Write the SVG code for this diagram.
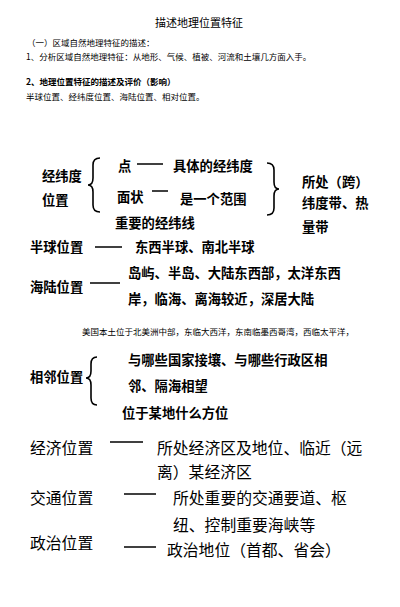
<svg xmlns="http://www.w3.org/2000/svg" width="400" height="607" viewBox="0 0 400 607">
<style>
text{font-family:"Noto Sans CJK SC","Liberation Sans",sans-serif;fill:#000}
.t{font-size:11px}
.s{font-size:8.5px}
.sb{font-size:8.5px;font-weight:bold}
.b{font-size:13.3px;font-weight:bold}
.n{font-size:15.8px}
.ln{stroke:#000;stroke-width:1.5;fill:none}
.br{stroke:#000;stroke-width:1.6;fill:none}
</style>
<rect width="400" height="607" fill="#fff"/>
<g id="header">
<text class="t" x="155" y="27">描述地理位置特征</text>
<text class="s" x="27" y="46">（一）区域自然地理特征的描述：</text>
<text class="s" x="26" y="60">1、分析区域自然地理特征：从地形、气候、植被、河流和土壤几方面入手。</text>
<text class="sb" x="26" y="85">2、地理位置特征的描述及评价（影响）</text>
<text class="s" x="26" y="100">半球位置、经纬度位置、海陆位置、相对位置。</text>
</g>
<g id="node-jingweidu">
<text class="b" x="42" y="181">经纬度</text>
<text class="b" x="42" y="205">位置</text>
</g>
<g id="node-dian"><text class="b" x="118" y="171">点</text></g>
<g id="node-dian-desc"><text class="b" x="173" y="171">具体的经纬度</text></g>
<g id="node-mianzhuang"><text class="b" x="117" y="202">面状</text></g>
<g id="node-mianzhuang-desc"><text class="b" x="180" y="204">是一个范围</text></g>
<g id="node-zhongyao"><text class="b" x="115" y="228">重要的经纬线</text></g>
<g id="node-suochu">
<text class="b" x="302" y="187">所处（跨）</text>
<text class="b" x="302" y="208">纬度带、热</text>
<text class="b" x="302" y="232">量带</text>
</g>
<g id="node-banqiu"><text class="b" x="30" y="252">半球位置</text></g>
<g id="node-banqiu-desc"><text class="b" x="135" y="252">东西半球、南北半球</text></g>
<g id="node-hailu"><text class="b" x="30" y="292">海陆位置</text></g>
<g id="node-hailu-desc">
<text class="b" x="128" y="278">岛屿、半岛、大陆东西部，太洋东西</text>
<text class="b" x="128" y="304">岸，临海、离海较近，深居大陆</text>
</g>
<g id="note"><text class="s" x="82" y="335">美国本土位于北美洲中部，东临大西洋，东南临墨西哥湾，西临太平洋，</text></g>
<g id="node-xianglin"><text class="b" x="30" y="382">相邻位置</text></g>
<g id="node-xianglin-desc">
<text class="b" x="128" y="365">与哪些国家接壤、与哪些行政区相</text>
<text class="b" x="128" y="391">邻、隔海相望</text>
</g>
<g id="node-fangwei"><text class="b" x="122" y="418">位于某地什么方位</text></g>
<g id="node-jingji"><text class="n" x="30" y="454">经济位置</text></g>
<g id="node-jingji-desc">
<text class="n" x="157" y="454">所处经济区及地位、临近（远</text>
<text class="n" x="157" y="478">离）某经济区</text>
</g>
<g id="node-jiaotong"><text class="n" x="30" y="504">交通位置</text></g>
<g id="node-jiaotong-desc">
<text class="n" x="173" y="504">所处重要的交通要道、枢</text>
<text class="n" x="173" y="531">纽、控制重要海峡等</text>
</g>
<g id="node-zhengzhi"><text class="n" x="30" y="549">政治位置</text></g>
<g id="node-zhengzhi-desc"><text class="n" x="167" y="556">政治地位（首都、省会）</text></g>
<g id="connectors">
<line class="ln" x1="137" y1="164" x2="163" y2="164"/>
<line class="ln" x1="152" y1="191" x2="168" y2="191"/>
<line class="ln" x1="95" y1="247" x2="122" y2="247"/>
<line class="ln" x1="90" y1="283" x2="120" y2="283"/>
<line class="ln" x1="110" y1="442" x2="143" y2="442" stroke-width="1.2"/>
<line class="ln" x1="124" y1="494" x2="156" y2="494" stroke-width="1.2"/>
<line class="ln" x1="124" y1="547" x2="156" y2="547" stroke-width="2"/>
<path class="br" d="M100,158 Q93,158 93,165 L93,178 Q93,185 88,185 Q93,185 93,192 L93,205 Q93,212 100,212"/>
<path class="br" d="M267,163 Q274,163 274,170 L274,182 Q274,189 279,189 Q274,189 274,196 L274,208 Q274,215 267,215"/>
<path class="br" d="M97,357 Q91,357 91,364 L91,371 Q91,378 86,378 Q91,378 91,385 L91,398 Q91,405 97,405"/>
</g>
</svg>
